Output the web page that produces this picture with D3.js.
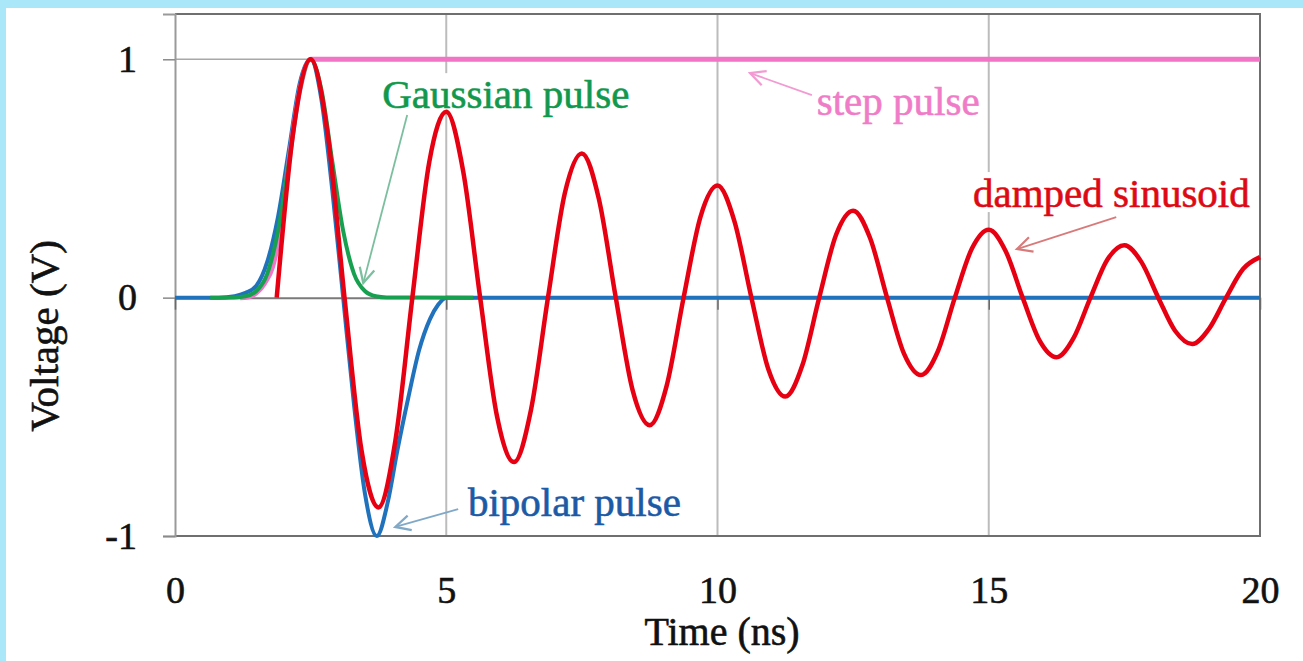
<!DOCTYPE html>
<html>
<head>
<meta charset="utf-8">
<script src="https://cdn.jsdelivr.net/npm/d3@7"></script>
<style>
  body { margin: 0; background: #a9e7f9; }
  svg { display: block; }
</style>
</head>
<body>
<svg id="chart" width="1303" height="661"></svg>
<script>
// values, [time (ns), voltage (V)]
const stepPulse = [[1.2,0],[1.35,0.003],[1.5,0.02],[1.65,0.06],[1.8,0.13],[1.95,0.3],[2.1,0.57],[2.3,0.87],[2.5,1.0],[20,1.0]];

const gaussianPulse = [[0.65,0],[1.1,0.001],[1.3,0.006],[1.5,0.028],[1.7,0.1],[1.9,0.28],[2.1,0.57],[2.3,0.87],[2.5,1.0],
  [2.7,0.87],[2.9,0.57],[3.1,0.28],[3.3,0.1],[3.5,0.028],[3.7,0.006],[3.9,0.001],[5.5,0]];

const bipolarPulse = [[0,0],[0.8,0],[1.1,0.006],[1.3,0.02],[1.5,0.05],[1.7,0.15],[1.9,0.34],[2.1,0.62],[2.3,0.9],[2.5,1.0],
  [2.7,0.83],[2.9,0.45],[3.1,0.0],[3.3,-0.45],[3.5,-0.82],[3.72,-1.0],[3.92,-0.86],[4.1,-0.64],[4.3,-0.42],[4.5,-0.22],
  [4.7,-0.09],[4.85,-0.03],[5.0,0],[20,0]];

const dampedSinusoid = [[1.875,0],[2.1875,0.71],[2.5,1.0],[2.8125,0.69],[3.125,0],[3.4375,-0.64],[3.75,-0.88],[4.0625,-0.6],
  [4.375,0],[4.6875,0.57],[5.0,0.78],[5.3125,0.53],[5.625,0],[5.9375,-0.5],[6.25,-0.69],[6.5625,-0.47],
  [6.875,0],[7.1875,0.44],[7.5,0.605],[7.8125,0.415],[8.125,0],[8.4375,-0.39],[8.75,-0.535],[9.0625,-0.37],
  [9.375,0],[9.6875,0.34],[10,0.47],[10.3125,0.32],[10.625,0],[10.9375,-0.3],[11.25,-0.415],[11.5625,-0.285],
  [11.875,0],[12.1875,0.265],[12.5,0.365],[12.8125,0.25],[13.125,0],[13.4375,-0.235],[13.75,-0.325],[14.0625,-0.225],
  [14.375,0],[14.6875,0.205],[15,0.285],[15.3125,0.195],[15.625,0],[15.9375,-0.18],[16.25,-0.25],[16.5625,-0.17],
  [16.875,0],[17.1875,0.16],[17.5,0.22],[17.8125,0.15],[18.125,0],[18.4375,-0.14],[18.75,-0.195],[19.0625,-0.13],
  [19.375,0],[19.6875,0.12],[20,0.17]];

const xTicks = [0, 5, 10, 15, 20];
const yTicks = [-1, 0, 1];
const gridX = [5, 10, 15];

// drawing order, bottom to top
const seriesNames = ['bipolar pulse', 'step pulse', 'Gaussian pulse', 'damped sinusoid'];
const seriesData = {
  'bipolar pulse': bipolarPulse,
  'step pulse': stepPulse,
  'Gaussian pulse': gaussianPulse,
  'damped sinusoid': dampedSinusoid
};

// look of each series and where its note sits (in data units)
const look = {
  'bipolar pulse':   {line: '#1f72bb', w: 4,   text: '#1c5aa6', arrow: '#80a9c8', at: [5.40, -0.916], from: [5.22, -0.887], to: [4.06, -0.962], box: false},
  'step pulse':      {line: '#f274c6', w: 5,   text: '#f07cc8', arrow: '#f29ad2', at: [11.83, 0.766], from: [11.74, 0.850], to: [10.60, 0.942], box: false},
  'Gaussian pulse':  {line: '#17a04f', w: 4,   text: '#10994c', arrow: '#7cbf9f', at: [3.82, 0.795], from: [4.28, 0.766], to: [3.47, 0.061], box: true},
  'damped sinusoid': {line: '#e60012', w: 4.5, text: '#dd0a14', arrow: '#d87a7a', at: [14.71, 0.380], from: [17.35, 0.338], to: [15.52, 0.204], box: true}
};

const font = '"Liberation Serif", "Times New Roman", serif';

const svg = d3.select('#chart');

// white page inside the blue edge
svg.append('rect')
  .attr('x', 6).attr('y', 8)
  .attr('width', 1297).attr('height', 653)
  .attr('fill', 'white');

const x = d3.scaleLinear().domain([0, 20]).range([175, 1260]);
const y = d3.scaleLinear().domain([-1, 1.19]).range([536, 14]);

// grid
svg.append('g')
  .selectAll('line')
  .data(gridX)
  .join('line')
  .attr('x1', d => x(d)).attr('x2', d => x(d))
  .attr('y1', y(1.19)).attr('y2', y(-1))
  .attr('stroke', '#bcbcbc')
  .attr('stroke-width', 2);

svg.append('line')
  .attr('x1', x(0)).attr('x2', x(20))
  .attr('y1', y(1)).attr('y2', y(1))
  .attr('stroke', '#a8a8a8')
  .attr('stroke-width', 1.5);

// frame
svg.append('path')
  .attr('d', `M${x(0)},${y(1.19)}H${x(20)}V${y(-1)}H${x(0)}`)
  .attr('fill', 'none')
  .attr('stroke', '#6f6f6f')
  .attr('stroke-width', 2);

// y axis
const yAxis = svg.append('g')
  .attr('transform', `translate(${x(0)},0)`)
  .call(d3.axisLeft(y).tickValues(yTicks).tickSize(12).tickPadding(26).tickFormat(d => String(d)));
yAxis.select('.domain').attr('stroke', '#9a9a9a').attr('stroke-width', 2);
yAxis.selectAll('.tick line').attr('stroke', '#8a8a8a').attr('stroke-width', 1.5);
yAxis.selectAll('.tick text')
  .attr('font-family', font).attr('font-size', 38).attr('fill', '#111')
  .attr('stroke', '#111').attr('stroke-width', 0.6);

// zero line with tick marks going down
const zAxis = svg.append('g')
  .attr('transform', `translate(0,${y(0)})`)
  .call(d3.axisBottom(x).tickValues(xTicks).tickSize(12).tickSizeOuter(0).tickFormat(''));
zAxis.select('.domain').attr('stroke', '#7a7a7a').attr('stroke-width', 2);
zAxis.selectAll('.tick line').attr('stroke', '#6a6a6a').attr('stroke-width', 1.5);

// x tick labels under the frame
const xAxis = svg.append('g')
  .attr('transform', `translate(0,${y(-1)})`)
  .call(d3.axisBottom(x).tickValues(xTicks).tickSize(0).tickPadding(40).tickFormat(d => String(d)));
xAxis.select('.domain').remove();
xAxis.selectAll('.tick text')
  .attr('font-family', font).attr('font-size', 38).attr('fill', '#111')
  .attr('stroke', '#111').attr('stroke-width', 0.6);

// axis titles
svg.append('text')
  .attr('x', 722).attr('y', 645)
  .attr('text-anchor', 'middle')
  .attr('font-family', font).attr('font-size', 40).attr('fill', '#111')
  .attr('stroke', '#111').attr('stroke-width', 0.6)
  .text('Time (ns)');

svg.append('text')
  .attr('transform', 'translate(58,336) rotate(-90)')
  .attr('text-anchor', 'middle')
  .attr('font-family', font).attr('font-size', 41).attr('fill', '#111')
  .attr('stroke', '#111').attr('stroke-width', 0.6)
  .text('Voltage (V)');

// notes
const notes = svg.append('g');
seriesNames.forEach(name => {
  const s = look[name];
  const g = notes.append('g');
  const t = g.append('text')
    .attr('x', x(s.at[0])).attr('y', y(s.at[1]))
    .attr('font-family', font).attr('font-size', 41).attr('fill', s.text)
    .attr('stroke', s.text).attr('stroke-width', 0.6)
    .text(name);
  if (s.box) {
    const b = t.node().getBBox();
    g.insert('rect', 'text')
      .attr('x', b.x).attr('y', b.y + 2)
      .attr('width', b.width).attr('height', b.height - 6)
      .attr('fill', 'white');
  }
});

// arrow heads
const defs = svg.append('defs');
seriesNames.forEach((name, i) => {
  defs.append('marker')
    .attr('id', 'head' + i)
    .attr('markerUnits', 'userSpaceOnUse')
    .attr('markerWidth', 20).attr('markerHeight', 20)
    .attr('viewBox', '-14 -8 16 16')
    .attr('refX', 0).attr('refY', 0)
    .attr('orient', 'auto')
    .append('path')
    .attr('d', 'M-12,-6L0,0L-12,6')
    .attr('fill', 'none')
    .attr('stroke', look[name].arrow)
    .attr('stroke-width', 1.8);
});

// series
const line = d3.line()
  .x(d => x(d[0]))
  .y(d => y(d[1]))
  .curve(d3.curveMonotoneX);

svg.append('g')
  .selectAll('path')
  .data(seriesNames)
  .join('path')
  .attr('d', d => line(seriesData[d]))
  .attr('fill', 'none')
  .attr('stroke', d => look[d].line)
  .attr('stroke-width', d => look[d].w)
  .attr('stroke-linejoin', 'round');

svg.append('g')
  .selectAll('line')
  .data(seriesNames)
  .join('line')
  .attr('x1', d => x(look[d].from[0])).attr('y1', d => y(look[d].from[1]))
  .attr('x2', d => x(look[d].to[0])).attr('y2', d => y(look[d].to[1]))
  .attr('stroke', d => look[d].arrow)
  .attr('stroke-width', 1.8)
  .attr('marker-end', (d, i) => `url(#head${i})`);
</script>
</body>
</html>
